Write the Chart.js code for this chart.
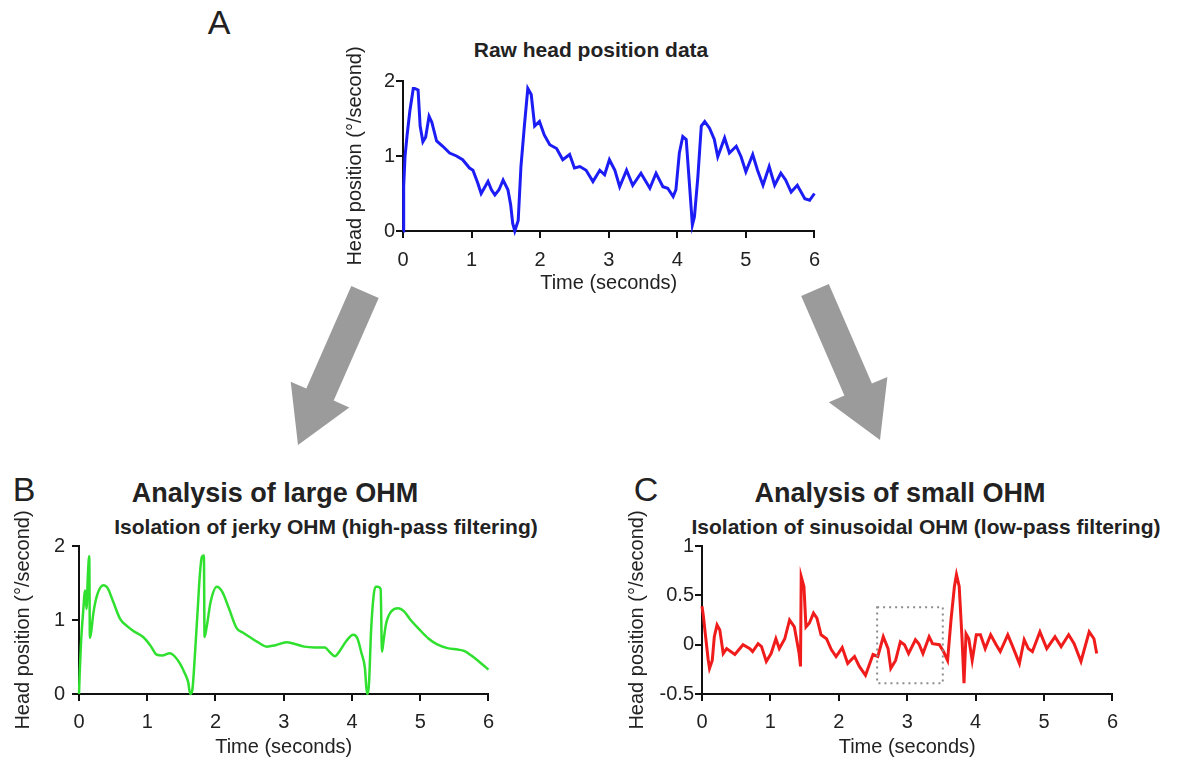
<!DOCTYPE html>
<html>
<head>
<meta charset="utf-8">
<script src="https://cdn.jsdelivr.net/npm/chart.js@4"></script>
<style>
  html, body { margin: 0; padding: 0; background: #fff; }
  body { width: 1179px; height: 760px; position: relative; overflow: hidden;
         font-family: "Liberation Sans", Arial, sans-serif; color: #222; }
  .lbl { position: absolute; transform: translate(-50%, -50%); white-space: nowrap; }
  .panel { font-size: 34px; }
  .head { font-size: 27px; font-weight: bold; }
  .sub { font-size: 21px; font-weight: bold; }
  canvas { position: absolute; }
  svg { position: absolute; left: 0; top: 0; }
</style>
</head>
<body>
<svg width="1179" height="760">
  <polygon fill="#9b9b9b" points="378.7,298 333.7,400.6 349.3,407.4 298,445 290.7,381.8 306.3,388.6 351.3,286"/>
  <polygon fill="#9b9b9b" points="828.8,284 871.9,383.6 887.4,376.9 880,440 828.8,402.3 844.4,395.6 801.2,296"/>
</svg>

<div class="lbl panel" style="left:219px; top:22px;">A</div>
<div class="lbl sub" style="left:591px; top:50px;">Raw head position data</div>
<div class="lbl panel" style="left:24px; top:489px;">B</div>
<div class="lbl head" style="left:275px; top:493px;">Analysis of large OHM</div>
<div class="lbl sub" style="left:326px; top:527px;">Isolation of jerky OHM (high-pass filtering)</div>
<div class="lbl panel" style="left:646px; top:489px;">C</div>
<div class="lbl head" style="left:900px; top:493px;">Analysis of small OHM</div>
<div class="lbl sub" style="left:926px; top:527px;">Isolation of sinusoidal OHM (low-pass filtering)</div>

<canvas id="chartA" width="505" height="270" style="left:325px; top:35px;"></canvas>
<canvas id="chartB" width="503" height="260" style="left:0px; top:500px;"></canvas>
<canvas id="chartC" width="507" height="260" style="left:620px; top:500px;"></canvas>

<script>
// time (s) and head velocity
const timeA = [0, 0.01, 0.03, 0.06, 0.10, 0.15, 0.17, 0.22, 0.25, 0.29, 0.33, 0.38, 0.42, 0.49, 0.58, 0.68, 0.78, 0.87, 0.97, 1.02, 1.09, 1.14, 1.19, 1.24, 1.29, 1.34, 1.40, 1.46, 1.53, 1.57, 1.60, 1.63, 1.68, 1.72, 1.77, 1.82, 1.87, 1.92, 1.99, 2.06, 2.14, 2.24, 2.33, 2.43, 2.50, 2.58, 2.67, 2.77, 2.87, 2.94, 3.01, 3.09, 3.16, 3.26, 3.35, 3.47, 3.60, 3.69, 3.79, 3.86, 3.94, 3.98, 4.03, 4.08, 4.13, 4.18, 4.22, 4.25, 4.30, 4.35, 4.40, 4.47, 4.54, 4.59, 4.69, 4.76, 4.86, 4.93, 5.00, 5.10, 5.17, 5.25, 5.34, 5.42, 5.51, 5.58, 5.66, 5.75, 5.86, 5.93, 6.00];
const headA = [0, 0.6, 1.0, 1.28, 1.6, 1.9, 1.9, 1.88, 1.4, 1.19, 1.25, 1.53, 1.45, 1.2, 1.13, 1.04, 1.0, 0.95, 0.84, 0.81, 0.64, 0.5, 0.58, 0.66, 0.55, 0.48, 0.55, 0.68, 0.55, 0.35, 0.1, 0, 0.14, 0.86, 1.4, 1.9, 1.82, 1.4, 1.46, 1.28, 1.15, 1.1, 0.95, 1.02, 0.84, 0.86, 0.81, 0.66, 0.81, 0.75, 0.95, 0.81, 0.59, 0.81, 0.61, 0.77, 0.57, 0.77, 0.59, 0.57, 0.46, 0.55, 1.04, 1.26, 1.22, 0.59, 0.08, 0.19, 0.72, 1.4, 1.46, 1.37, 1.22, 0.99, 1.24, 1.04, 1.13, 0.99, 0.79, 1.02, 0.81, 0.61, 0.86, 0.61, 0.77, 0.68, 0.52, 0.61, 0.43, 0.41, 0.5];

const timeB = [0, 0.01, 0.03, 0.06, 0.09, 0.11, 0.13, 0.15, 0.16, 0.18, 0.21, 0.27, 0.36, 0.42, 0.5, 0.6, 0.7, 0.8, 0.94, 1.05, 1.14, 1.22, 1.33, 1.41, 1.48, 1.55, 1.60, 1.63, 1.66, 1.70, 1.74, 1.77, 1.80, 1.83, 1.84, 1.87, 1.93, 2.02, 2.10, 2.20, 2.31, 2.40, 2.50, 2.62, 2.75, 2.88, 3.04, 3.15, 3.30, 3.45, 3.60, 3.68, 3.75, 3.82, 3.92, 4.02, 4.08, 4.14, 4.19, 4.22, 4.25, 4.28, 4.32, 4.35, 4.38, 4.42, 4.44, 4.46, 4.50, 4.58, 4.68, 4.76, 4.86, 4.98, 5.12, 5.25, 5.40, 5.55, 5.65, 5.75, 5.86, 5.95, 6.0];
const headB = [0, 0.28, 0.7, 1.1, 1.4, 1.15, 1.6, 1.86, 0.76, 0.85, 1.09, 1.35, 1.47, 1.43, 1.25, 1.02, 0.92, 0.85, 0.77, 0.65, 0.53, 0.52, 0.55, 0.5, 0.41, 0.28, 0.16, 0.0, 0.05, 0.55, 1.15, 1.6, 1.85, 1.87, 0.77, 0.9, 1.25, 1.45, 1.38, 1.15, 0.89, 0.83, 0.77, 0.7, 0.64, 0.66, 0.7, 0.68, 0.64, 0.63, 0.63, 0.56, 0.51, 0.58, 0.72, 0.8, 0.75, 0.55, 0.35, 0.0, 0.15, 0.85, 1.35, 1.45, 1.45, 1.42, 0.57, 0.7, 0.95, 1.12, 1.16, 1.12, 1.0, 0.88, 0.75, 0.67, 0.62, 0.6, 0.58, 0.52, 0.44, 0.37, 0.33];

const timeC = [0, 0.02, 0.05, 0.09, 0.11, 0.15, 0.18, 0.22, 0.26, 0.31, 0.36, 0.48, 0.60, 0.70, 0.74, 0.82, 0.87, 0.94, 1.01, 1.08, 1.13, 1.21, 1.28, 1.35, 1.42, 1.44, 1.45, 1.49, 1.52, 1.57, 1.63, 1.68, 1.74, 1.82, 1.89, 1.96, 2.05, 2.13, 2.23, 2.30, 2.39, 2.50, 2.57, 2.65, 2.72, 2.76, 2.83, 2.90, 2.96, 3.02, 3.12, 3.17, 3.23, 3.32, 3.37, 3.47, 3.53, 3.59, 3.64, 3.69, 3.72, 3.76, 3.80, 3.83, 3.86, 3.90, 3.95, 4.01, 4.07, 4.14, 4.22, 4.30, 4.36, 4.47, 4.53, 4.64, 4.71, 4.77, 4.83, 4.94, 5.04, 5.16, 5.25, 5.36, 5.44, 5.54, 5.66, 5.73, 5.77];
const headC = [0.39, 0.29, 0.1, -0.15, -0.24, -0.16, 0.08, 0.2, 0.15, -0.09, -0.04, -0.1, 0, -0.04, -0.07, 0.01, -0.02, -0.17, -0.09, 0.06, -0.04, 0.06, 0.25, 0.18, -0.09, -0.22, 0.69, 0.59, 0.18, 0.22, 0.32, 0.27, 0.1, 0.06, -0.05, -0.12, -0.03, -0.19, -0.12, -0.22, -0.31, -0.1, -0.12, 0.08, -0.04, -0.24, -0.16, 0.03, 0, -0.09, 0.05, 0.01, -0.09, 0.08, 0.01, 0, -0.07, -0.16, 0.25, 0.59, 0.71, 0.59, 0.08, -0.39, 0.11, 0.06, -0.16, 0.1, 0.1, -0.04, 0.1, 0, -0.07, 0.1, 0, -0.19, 0.05, -0.04, -0.07, 0.13, -0.04, 0.08, -0.02, 0.1, 0.01, -0.17, 0.13, 0.06, -0.09];

// dotted box in panel C
const boxTime = [2.56, 3.52];
const boxHead = [-0.39, 0.38];

const timeTicks = [0, 1, 2, 3, 4, 5, 6];
const headTicksAB = [0, 1, 2];
const headTicksC = [-0.5, 0, 0.5, 1];

Chart.defaults.font.family = '"Liberation Sans", Arial, sans-serif';
Chart.defaults.color = '#222';

const zoomBox = {
  id: 'zoomBox',
  afterDatasetsDraw(chart) {
    const { x, y } = chart.scales;
    const ctx = chart.ctx;
    const x0 = x.getPixelForValue(boxTime[0]), x1 = x.getPixelForValue(boxTime[1]);
    const y0 = y.getPixelForValue(boxHead[1]), y1 = y.getPixelForValue(boxHead[0]);
    ctx.save();
    ctx.strokeStyle = '#8c8c8c';
    ctx.lineWidth = 2;
    ctx.setLineDash([2, 4]);
    ctx.strokeRect(x0, y0, x1 - x0, y1 - y0);
    ctx.restore();
  }
};

function makeChart(id, times, values, opt) {
  const points = times.map((t, i) => ({ x: t, y: values[i] }));
  return new Chart(document.getElementById(id), {
    type: 'line',
    data: {
      datasets: [{
        data: points,
        borderColor: opt.color,
        borderWidth: opt.width,
        pointRadius: 0,
        tension: 0,
        cubicInterpolationMode: opt.smooth ? 'monotone' : 'default',
        clip: false
      }]
    },
    options: {
      responsive: false,
      animation: false,
      devicePixelRatio: 1,
      layout: { padding: { top: 46, right: 14, left: 0, bottom: 0 } },
      plugins: { legend: { display: false }, tooltip: { enabled: false } },
      scales: {
        x: {
          type: 'linear',
          min: 0, max: 6,
          afterBuildTicks: s => { s.ticks = timeTicks.map(v => ({ value: v })); },
          afterFit: s => { s.height = opt.xHeight; },
          border: { display: true, color: '#111', width: 2 },
          grid: { drawOnChartArea: false, color: '#111', lineWidth: 2, tickLength: 7 },
          ticks: { padding: opt.xPad, color: '#222', font: { size: 20 }, maxRotation: 0 },
          title: { display: true, text: 'Time (seconds)', color: '#222', font: { size: 20 },
                   padding: { top: 0, bottom: opt.xTitlePad } }
        },
        y: {
          min: opt.yMin, max: opt.yMax,
          afterBuildTicks: s => { s.ticks = opt.yTicks.map(v => ({ value: v })); },
          afterFit: s => { s.width = opt.yWidth; },
          border: { display: true, color: '#111', width: 2 },
          grid: { drawOnChartArea: false, color: '#111', lineWidth: 2, tickLength: 7 },
          ticks: { padding: opt.yPad, color: '#222', font: { size: 20 }, callback: v => String(v) },
          title: { display: true, text: 'Head position (°/second)', color: '#222', font: { size: 20 },
                   padding: { top: opt.yTitlePad, bottom: 0 } }
        }
      }
    },
    plugins: opt.box ? [zoomBox] : []
  });
}

makeChart('chartA', timeA, headA, {
  color: '#1c1cf5', width: 3, smooth: false,
  yMin: 0, yMax: 2, yTicks: headTicksAB,
  yWidth: 78, yPad: 1, yTitlePad: 18, xHeight: 74, xPad: 10, xTitlePad: 10
});

makeChart('chartB', timeB, headB, {
  color: '#2fe02f', width: 2.5, smooth: true,
  yMin: 0, yMax: 2, yTicks: headTicksAB,
  yWidth: 79, yPad: 7, yTitlePad: 11, xHeight: 66, xPad: 9, xTitlePad: 1
});

makeChart('chartC', timeC, headC, {
  color: '#f01c1c', width: 3, smooth: false,
  yMin: -0.5, yMax: 1, yTicks: headTicksC,
  yWidth: 82, yPad: 1, yTitlePad: 5, xHeight: 66, xPad: 9, xTitlePad: 1, box: true
});
</script>
</body>
</html>
